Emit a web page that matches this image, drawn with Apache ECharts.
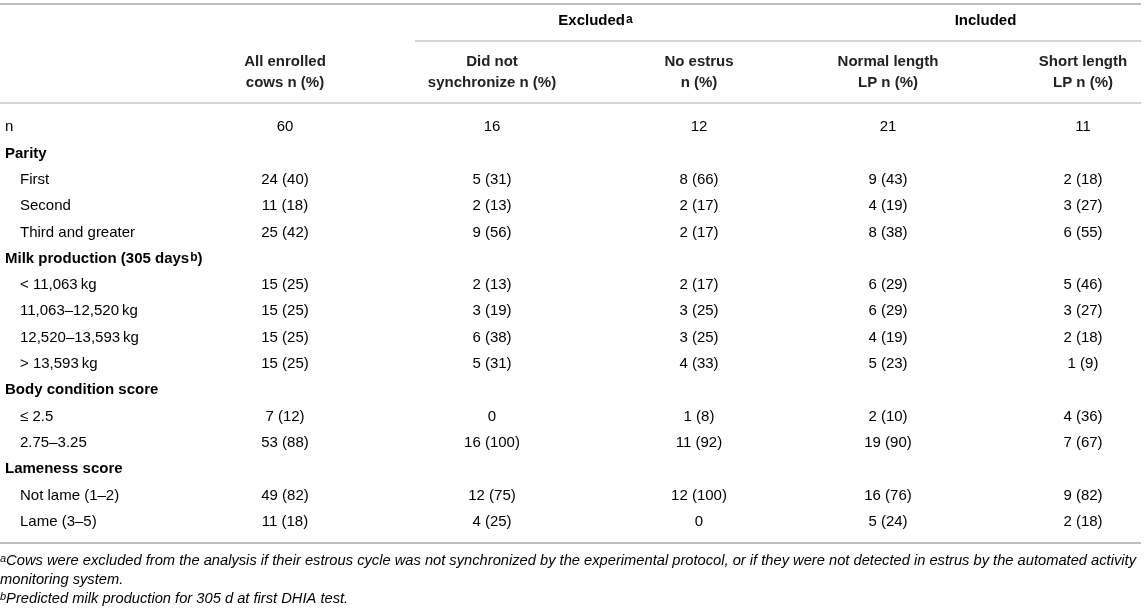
<!DOCTYPE html>
<html>
<head>
<meta charset="utf-8">
<script src="https://cdn.jsdelivr.net/npm/echarts@6/dist/echarts.min.js"></script>
<style>
html,body{margin:0;padding:0;background:#fff;}
#main{width:1145px;height:612px;}
</style>
</head>
<body>
<div id="main"></div>
<script>
// ---------------- data ----------------
// "^x" marks a superscript letter
const rowLabels = [
  "n", "Parity", "First", "Second", "Third and greater",
  "Milk production (305 days^b)",
  "< 11,063\u2009kg", "11,063\u201312,520\u2009kg", "12,520\u201313,593\u2009kg", "> 13,593\u2009kg",
  "Body condition score", "\u2264 2.5", "2.75\u20133.25",
  "Lameness score", "Not lame (1\u20132)", "Lame (3\u20135)"
];
// 0 = plain top-level, 1 = bold section header, 2 = indented item
const rowKinds = [0, 1, 2, 2, 2, 1, 2, 2, 2, 2, 1, 2, 2, 1, 2, 2];

const columnHeaders = [
  "All enrolled\ncows n (%)",
  "Did not\nsynchronize n (%)",
  "No estrus\nn (%)",
  "Normal length\nLP n (%)",
  "Short length\nLP n (%)"
];
const groupHeaders = ["Excluded^a", "Included"];

// counts and percentages per column (null = empty cell / no percent)
const allEnrolledN   = [60, null, 24, 11, 25, null, 15, 15, 15, 15, null, 7, 53, null, 49, 11];
const allEnrolledPct = [null, null, 40, 18, 42, null, 25, 25, 25, 25, null, 12, 88, null, 82, 18];
const didNotSyncN    = [16, null, 5, 2, 9, null, 2, 3, 6, 5, null, 0, 16, null, 12, 4];
const didNotSyncPct  = [null, null, 31, 13, 56, null, 13, 19, 38, 31, null, null, 100, null, 75, 25];
const noEstrusN      = [12, null, 8, 2, 2, null, 2, 3, 3, 4, null, 1, 11, null, 12, 0];
const noEstrusPct    = [null, null, 66, 17, 17, null, 17, 25, 25, 33, null, 8, 92, null, 100, null];
const normalLPN      = [21, null, 9, 4, 8, null, 6, 6, 4, 5, null, 2, 19, null, 16, 5];
const normalLPPct    = [null, null, 43, 19, 38, null, 29, 29, 19, 23, null, 10, 90, null, 76, 24];
const shortLPN       = [11, null, 2, 3, 6, null, 5, 3, 2, 1, null, 4, 7, null, 9, 2];
const shortLPPct     = [null, null, 18, 27, 55, null, 46, 27, 18, 9, null, 36, 67, null, 82, 18];

const footnotes = [
  "^aCows were excluded from the analysis if their estrous cycle was not synchronized by the experimental protocol, or if they were not detected in estrus by the automated activity",
  "monitoring system.",
  "^bPredicted milk production for 305 d at first DHIA test."
];

// ---------------- layout (style only) ----------------
const W = 1145;
const colX = [285, 492, 699, 888, 1083];   // column centres
const labelX = [5, 5, 20];                  // by row kind
const textColor = "#222";
const noteColor = "#333";
const ruleColor = "#a9a9a9";
const FONT = "'Liberation Sans', Arial, Helvetica, sans-serif";

const columns = [
  [allEnrolledN, allEnrolledPct],
  [didNotSyncN, didNotSyncPct],
  [noEstrusN, noEstrusPct],
  [normalLPN, normalLPPct],
  [shortLPN, shortLPPct]
];

function cellText(n, p) {
  if (n === null) return "";
  return p === null ? String(n) : n + " (" + p + ")";
}
// turn "text^x more" into rich text with a base style and a superscript style
function toRich(str, base, sup) {
  const parts = str.split(/\^(\w)/);
  let out = "";
  parts.forEach((p, i) => {
    if (!p) return;
    out += "{" + (i % 2 ? sup : base) + "|" + p + "}";
  });
  return out;
}

const richStyles = {
  r:  { fontFamily: FONT, fontSize: 15, color: textColor },
  b:  { fontFamily: FONT, fontSize: 15, fontWeight: "bold", color: textColor },
  sb: { fontFamily: FONT, fontSize: 12, fontWeight: "bold", verticalAlign: "top", lineHeight: 7, padding: [0, 0, 0, 1], color: textColor },
  i:  { fontFamily: FONT, fontSize: 14.7, fontStyle: "italic", color: noteColor },
  si: { fontFamily: FONT, fontSize: 11, fontStyle: "italic", verticalAlign: "top", lineHeight: 7, color: noteColor }
};

// build cell data: [column index (-1 = row label), row index]
const cellData = [];
const cellTexts = [];
rowLabels.forEach((lab, r) => {
  cellData.push([-1, r]);
  cellTexts.push(toRich(lab, rowKinds[r] === 1 ? "b" : "r", "sb"));
  columns.forEach((c, ci) => {
    const t = cellText(c[0][r], c[1][r]);
    if (t) { cellData.push([ci, r]); cellTexts.push("{r|" + t + "}"); }
  });
});

const chart = echarts.init(document.getElementById("main"), null, { renderer: "canvas" });

const headerY1 = 21, headerY2 = 72;
const graphics = [
  { type: "line", shape: { x1: 0, y1: 4, x2: 1141, y2: 4 }, style: { stroke: ruleColor, lineWidth: 1.6 } },
  { type: "line", shape: { x1: 415, y1: 41, x2: 1141, y2: 41 }, style: { stroke: ruleColor, lineWidth: 1.2 } },
  { type: "line", shape: { x1: 0, y1: 103, x2: 1141, y2: 103 }, style: { stroke: ruleColor, lineWidth: 1.2 } },
  { type: "line", shape: { x1: 0, y1: 543, x2: 1141, y2: 543 }, style: { stroke: ruleColor, lineWidth: 1.6 } }
];
[[colX[1], colX[2]], [colX[3], colX[4]]].forEach((pair, i) => {
  graphics.push({
    type: "text",
    style: {
      x: (pair[0] + pair[1]) / 2, y: headerY1,
      text: toRich(groupHeaders[i], "b", "sb"),
      rich: richStyles, align: "center", verticalAlign: "middle"
    }
  });
});
columnHeaders.forEach((h, i) => {
  graphics.push({
    type: "text",
    style: {
      x: colX[i], y: headerY2, text: h, align: "center", verticalAlign: "middle",
      font: "bold 15px " + FONT, fill: textColor, lineHeight: 21
    }
  });
});
const noteY = [561, 580, 599];
footnotes.forEach((f, i) => {
  graphics.push({
    type: "text",
    style: { x: 0, y: noteY[i], text: toRich(f, "i", "si"), verticalAlign: "middle", rich: richStyles }
  });
});

chart.setOption({
  animation: false,
  backgroundColor: "#fff",
  grid: { left: 0, right: 0, top: 113, height: 421, containLabel: false },
  xAxis: { type: "value", min: 0, max: W, show: false },
  yAxis: { type: "category", data: rowLabels, inverse: true, show: false },
  graphic: graphics,
  series: [{
    type: "custom",
    coordinateSystem: "cartesian2d",
    data: cellData,
    encode: { x: 0, y: 1 },
    renderItem: function (params, api) {
      const col = api.value(0);
      const row = api.value(1);
      const isLabel = col < 0;
      const xPos = isLabel ? labelX[rowKinds[row]] : colX[col];
      const pt = api.coord([xPos, row]);
      return {
        type: "text",
        style: {
          x: pt[0], y: pt[1] + 1,
          text: cellTexts[params.dataIndex],
          align: isLabel ? "left" : "center",
          verticalAlign: "middle",
          rich: richStyles
        }
      };
    }
  }]
});
</script>
</body>
</html>
